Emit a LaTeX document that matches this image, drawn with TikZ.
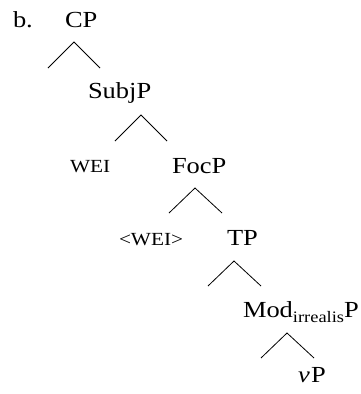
\documentclass[tikz,border=0pt]{standalone}
\usepackage{fontspec}
\setmainfont[FakeStretch=1.15]{Liberation Serif}
\begin{document}
\begin{tikzpicture}[x=1pt,y=-1pt,
  lbl/.style={anchor=base west,inner sep=0pt,outer sep=0pt,font=\fontsize{23}{23}\selectfont},
  sclbl/.style={anchor=base west,inner sep=0pt,outer sep=0pt,font=\fontsize{18.5}{18.5}\selectfont},
  branch/.style={line width=0.8pt,black}]
\useasboundingbox (0,0) rectangle (361,394);

% labels
\node[lbl] (ex) at (13,27) {b.};
\node[lbl] (cp) at (65,27) {CP};
\node[lbl] (subjp) at (88,98) {SubjP};
\node[sclbl] (wei) at (70,172) {WEI};
\node[lbl] (focp) at (172,173) {FocP};
\node[sclbl] (weitr) at (119,245) {<WEI>};
\node[lbl] (tp) at (227,245) {TP};
\node[lbl] (modp) at (243,317) {Mod\raisebox{-5pt}{\fontsize{16}{16}\selectfont irrealis}P};
\node[lbl] (vp) at (298,382) {\textit{v}\kern1.5pt P};

% branch points
\coordinate (a1) at (74,42);  \coordinate (l1) at (48,68);  \coordinate (r1) at (100,68);
\coordinate (a2) at (141,115); \coordinate (l2) at (115,141); \coordinate (r2) at (167,141);
\coordinate (a3) at (195,188); \coordinate (l3) at (169,213); \coordinate (r3) at (222,213);
\coordinate (a4) at (234,261); \coordinate (l4) at (208,286); \coordinate (r4) at (261,286);
\coordinate (a5) at (287,333); \coordinate (l5) at (261,358); \coordinate (r5) at (314,358);

\foreach \i in {1,...,5}{
  \draw[branch] (l\i) -- (a\i) -- (r\i);
}
\end{tikzpicture}
\end{document}
